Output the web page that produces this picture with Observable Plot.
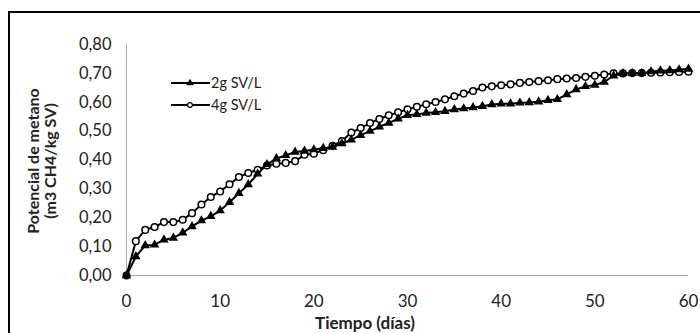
<!DOCTYPE html>
<html>
<head>
<meta charset="utf-8">
<script src="https://cdn.jsdelivr.net/npm/d3@7"></script>
<script src="https://cdn.jsdelivr.net/npm/@observablehq/plot@0.6"></script>
<style>
  html, body { margin: 0; padding: 0; background: #fff; }
  #chart { width: 700px; height: 333px; overflow: hidden; }
</style>
</head>
<body>
<div id="chart"></div>
<script>
// Days (x)
const days = d3.range(0, 61);
// 2g SV/L series (triangles)
const serie2g = [0.000, 0.066, 0.104, 0.106, 0.124, 0.130, 0.148, 0.170, 0.190, 0.205,
  0.225, 0.254, 0.285, 0.315, 0.352, 0.385, 0.405, 0.416, 0.428, 0.431,
  0.436, 0.441, 0.445, 0.457, 0.470, 0.486, 0.500, 0.515, 0.528, 0.543,
  0.555, 0.558, 0.563, 0.565, 0.569, 0.575, 0.578, 0.582, 0.586, 0.592,
  0.595, 0.595, 0.598, 0.599, 0.602, 0.607, 0.610, 0.627, 0.644, 0.655,
  0.660, 0.670, 0.692, 0.700, 0.700, 0.700, 0.706, 0.709, 0.710, 0.713,
  0.715];
// 4g SV/L series (open circles)
const serie4g = [0.000, 0.119, 0.158, 0.168, 0.185, 0.185, 0.193, 0.216, 0.246, 0.272,
  0.291, 0.316, 0.341, 0.355, 0.366, 0.381, 0.387, 0.390, 0.396, 0.418,
  0.422, 0.434, 0.449, 0.466, 0.495, 0.511, 0.528, 0.542, 0.555, 0.565,
  0.576, 0.584, 0.593, 0.601, 0.610, 0.621, 0.630, 0.639, 0.651, 0.655,
  0.659, 0.662, 0.667, 0.670, 0.673, 0.676, 0.680, 0.682, 0.684, 0.688,
  0.692, 0.696, 0.700, 0.700, 0.701, 0.701, 0.702, 0.703, 0.704, 0.705,
  0.706];
const seriesNames = ["2g SV/L", "4g SV/L"];
const xTicks = [0, 10, 20, 30, 40, 50, 60];
const yTicks = [0, 0.1, 0.2, 0.3, 0.4, 0.5, 0.6, 0.7, 0.8];
const xTitle = "Tiempo (días)";
const yTitle = ["Potencial de metano", "(m3 CH4/kg SV)"];

const d2 = days.map((d, i) => ({day: d, v: serie2g[i]}));
const d4 = days.map((d, i) => ({day: d, v: serie4g[i]}));

const fmt = d => d.toFixed(2).replace(".", ",");

const chart = Plot.plot({
  width: 700,
  height: 333,
  marginLeft: 126,
  marginRight: 12,
  marginTop: 44,
  marginBottom: 58,
  style: {fontFamily: "Lato, 'Open Sans', sans-serif", background: "#fff", color: "#222"},
  x: {domain: [0, 60]},
  y: {domain: [0, 0.8]},
  marks: [
    Plot.ruleX([0], {stroke: "#a6a6a6", strokeWidth: 1}),
    Plot.ruleY([0], {stroke: "#a6a6a6", strokeWidth: 1}),
    Plot.axisY({ticks: yTicks, tickFormat: fmt, tickSize: 0, tickPadding: 15, fontSize: 16.5, label: null}),
    Plot.axisX({ticks: xTicks, tickFormat: d => String(d), tickSize: 0, tickPadding: 19, fontSize: 17, label: null}),
    Plot.line(d4, {x: "day", y: "v", stroke: "#000", strokeWidth: 2}),
    Plot.dot(d4, {x: "day", y: "v", symbol: "circle", r: 3.3, fill: "#fff", stroke: "#000", strokeWidth: 1.5}),
    Plot.line(d2, {x: "day", y: "v", stroke: "#000", strokeWidth: 2}),
    Plot.dot(d2, {x: "day", y: "v", symbol: "triangle", r: 3.5, fill: "#000", stroke: "none"})
  ]
});

document.getElementById("chart").appendChild(chart);

const svg = d3.select(chart);
// Outer frame
svg.append("rect")
  .attr("x", 9).attr("y", 12).attr("width", 720).attr("height", 360)
  .attr("fill", "none").attr("stroke", "#000").attr("stroke-width", 2);

// Y title (two lines, rotated)
const yt = svg.append("text")
  .attr("transform", "translate(33,161) rotate(-90)")
  .attr("text-anchor", "middle")
  .attr("font-family", "Lato, sans-serif")
  .attr("font-weight", "bold")
  .attr("font-size", 16)
  .attr("fill", "#222");
yTitle.forEach((t, i) => {
  yt.append("tspan").attr("x", 0).attr("y", i * 17).attr("dy", "0.35em").text(t);
});

// X title
svg.append("text")
  .attr("x", 365).attr("y", 323).attr("dy", "0.35em")
  .attr("text-anchor", "middle")
  .attr("font-family", "Lato, sans-serif")
  .attr("font-weight", "bold")
  .attr("font-size", 17)
  .attr("fill", "#222")
  .text(xTitle);

// Legend
const legendRows = [
  {name: seriesNames[0], y: 83, symbol: d3.symbolTriangle, fill: "#000", stroke: "none", size: 24},
  {name: seriesNames[1], y: 105, symbol: d3.symbolCircle, fill: "#fff", stroke: "#000", size: 18}
];
const lg = svg.append("g");
legendRows.forEach(r => {
  lg.append("line").attr("x1", 171).attr("x2", 210).attr("y1", r.y).attr("y2", r.y)
    .attr("stroke", "#000").attr("stroke-width", 2);
  lg.append("path").attr("d", d3.symbol(r.symbol, r.size)())
    .attr("transform", `translate(190,${r.y})`)
    .attr("fill", r.fill).attr("stroke", r.stroke).attr("stroke-width", 1.2);
  lg.append("text").attr("x", 211).attr("y", r.y).attr("dy", "0.35em")
    .attr("text-anchor", "start")
    .attr("font-family", "Lato, sans-serif").attr("font-size", 14.5).attr("fill", "#222")
    .text(r.name);
});
</script>
</body>
</html>
